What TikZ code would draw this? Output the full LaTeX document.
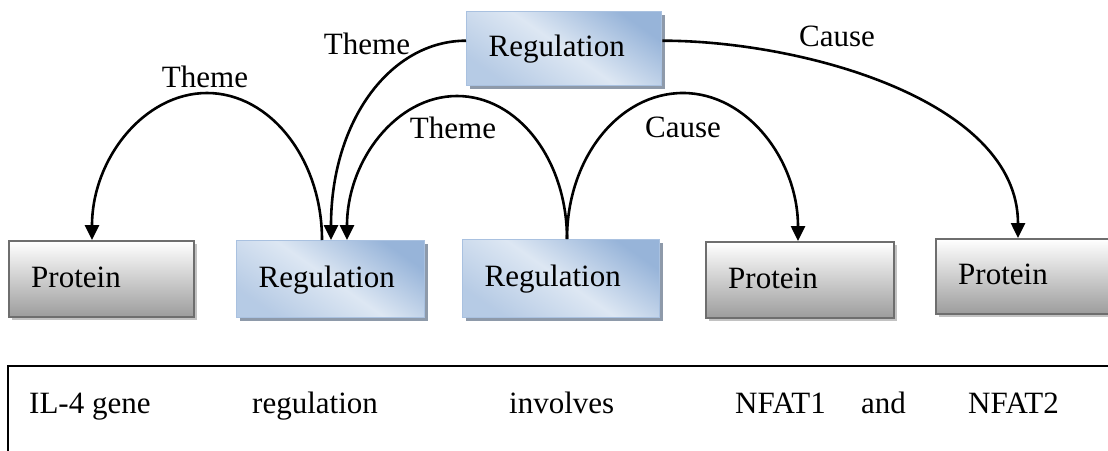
\documentclass[tikz,border=0pt]{standalone}
\usepackage{fontspec}
\setmainfont{Liberation Serif}
\usetikzlibrary{arrows.meta,shadows}

\definecolor{protborder}{HTML}{6E6E6E}
\definecolor{protbottom}{HTML}{9C9C9C}
\definecolor{protshadow}{HTML}{C2C2C2}
\definecolor{bluedark}{HTML}{97B4D9}
\definecolor{bluelight}{HTML}{DDE7F3}
\definecolor{blueborder}{HTML}{A9C1E0}
\definecolor{blueshadow}{HTML}{8E9AAA}

\begin{document}
\begin{tikzpicture}[x=1pt,y=-1pt,
  font=\fontsize{31pt}{36pt}\selectfont,
  box/.style={anchor=north west, inner xsep=22pt, inner ysep=0pt,
    text height=22pt, text depth=6pt, align=left},
  protein/.style={box, draw=protborder, line width=2.4pt,
    top color=white, bottom color=protbottom,
    drop shadow={shadow xshift=3pt, shadow yshift=-3pt, fill=protshadow, opacity=1}},
  regul/.style={box, draw=blueborder, line width=1.4pt,
    top color=bluedark, bottom color=bluedark!55!bluelight, middle color=bluelight,
    shading angle=-35,
    drop shadow={shadow xshift=3pt, shadow yshift=-3pt, fill=blueshadow, opacity=1}},
  lbl/.style={anchor=base, inner sep=0pt},
  word/.style={anchor=base west, inner sep=0pt},
  conn/.style={line width=2.6pt, -{Triangle[length=15pt,width=14pt]}},
]
\useasboundingbox (0,0) rectangle (1108,450);
\clip (0,0) rectangle (1108,450);

% event and protein boxes
\node[protein, text width=141pt, minimum height=76pt] (p1) at (8,240) {Protein};
\node[regul,   text width=144pt, minimum height=77pt] (r1) at (236,240) {Regulation};
\node[regul,   text width=153pt, minimum height=78pt] (r2) at (462,239) {Regulation};
\node[protein, text width=144pt, minimum height=76pt] (p2) at (705,241) {Protein};
\node[protein, text width=156pt, minimum height=75pt] (p3) at (935,238) {Protein};
\node[regul,   text width=151pt, minimum height=74pt] (rt) at (466,11) {Regulation};

% tops of the arches
\coordinate (pk1) at (207,93);
\coordinate (pk3) at (457,96);
\coordinate (pk4) at (683,93);

% argument arcs
\draw[conn] ([xshift=86pt]r1.north west) .. controls +(0,-81) and +(63,0) .. (pk1)
  .. controls +(-63,0) and +(0,-81) .. ([xshift=84pt]p1.north west);
\draw[conn] ([yshift=8pt]rt.west) .. controls +(-75,0) and +(0,-120) .. ([xshift=95pt]r1.north west);
\draw[conn] ([xshift=105pt]r2.north west) .. controls +(0,-79) and +(61,0) .. (pk3)
  .. controls +(-61,0) and +(0,-79) .. ([xshift=111pt]r1.north west);
\draw[conn] ([xshift=105pt]r2.north west) .. controls +(0,-81) and +(-64,0) .. (pk4)
  .. controls +(64,0) and +(0,-81) .. ([xshift=93pt]p2.north west);
\draw[conn] ([yshift=8pt]rt.east) .. controls +(139,0) and +(0,-138) .. ([xshift=83pt]p3.north west);

% role labels
\node[lbl] (l1) at (205,87) {Theme};
\node[lbl] (l2) at (367,54) {Theme};
\node[lbl] (l3) at (453,138) {Theme};
\node[lbl] (l4) at (683,137) {Cause};
\node[lbl] (l5) at (837,46) {Cause};

% sentence frame
\draw[line width=2pt] (8,452) -- (8,366) -- (1112,366);
\node[word] (w1) at (29,413) {IL-4 gene};
\node[word] (w2) at (252,413) {regulation};
\node[word] (w3) at (509,413) {involves};
\node[word] (w4) at (735,413) {NFAT1};
\node[word] (w5) at (861,413) {and};
\node[word] (w6) at (968,413) {NFAT2};
\end{tikzpicture}
\end{document}
